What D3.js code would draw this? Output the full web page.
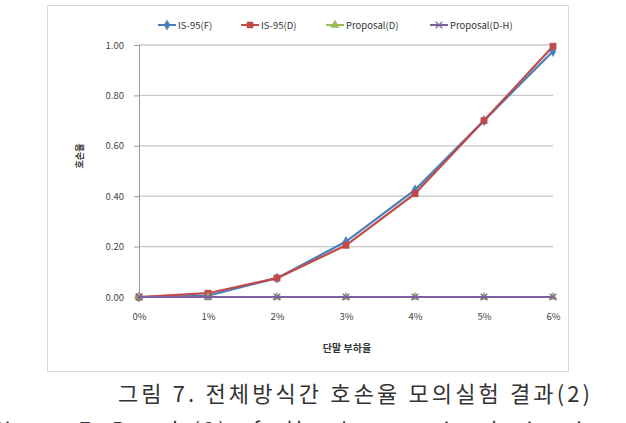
<!DOCTYPE html>
<html><head><meta charset="utf-8">
<script src="https://cdn.jsdelivr.net/npm/d3@7"></script>
<style>body{margin:0;background:#fff;}svg{display:block;}</style>
</head><body>
<svg id="c" width="626" height="423"></svg>
<script>
const categories = ["0%","1%","2%","3%","4%","5%","6%"];
const seriesNames = ["IS-95(F)","IS-95(D)","Proposal(D)","Proposal(D-H)"];
const is95F = [0, 0.005, 0.075, 0.22, 0.425, 0.70, 0.975];
const is95D = [0, 0.015, 0.075, 0.205, 0.41, 0.70, 0.995];
const propD = [0, 0, 0, 0, 0, 0, 0];
const propDH = [0, 0, 0, 0, 0, 0, 0];
const yTicks = [0, 0.2, 0.4, 0.6, 0.8, 1.0];
const xTitle = "단말 부하율";
const yTitle = "호손율";
const caption = "그림 7. 전체방식간 호손율 모의실험 결과(2)";
const caption2 = "Figure 7. Result(2) of all schemes simulation between";

const colors = ["#4a7ebb","#be4b48","#98b954","#7d60a0"];
const symbols = [d3.symbolDiamond, d3.symbolSquare, d3.symbolTriangle, d3.symbolX];
const data = [is95F, is95D, propD, propDH];

const svg = d3.select("#c");
const font = "'Noto Sans CJK KR','Noto Sans',sans-serif";

svg.append("rect").attr("x",47.5).attr("y",5.5).attr("width",521).attr("height",366)
  .attr("fill","#fff").attr("stroke","#d9d9d9");

const x = d3.scalePoint().domain(categories).range([139,553]);
const y = d3.scaleLinear().domain([0,1]).range([297,45]);

// gridlines
svg.append("g").selectAll("line").data(yTicks.filter(d=>d>0)).join("line")
  .attr("x1",139).attr("x2",553).attr("y1",d=>y(d)).attr("y2",d=>y(d))
  .attr("stroke","#c8c8c8").attr("stroke-width",1.3);

// y axis
const ya = svg.append("g").attr("transform","translate(139,0)")
  .call(d3.axisLeft(y).tickValues(yTicks).tickFormat(d3.format(".2f")).tickSize(5).tickPadding(10));
ya.select(".domain").attr("stroke","#9a9a9a");
ya.selectAll(".tick line").attr("stroke","#9a9a9a");
ya.selectAll("text").attr("font-family",font).attr("font-size",9.5).attr("fill","#444");

// x axis
const xa = svg.append("g").attr("transform","translate(0,297)")
  .call(d3.axisBottom(x).tickSize(0).tickPadding(16));
xa.select(".domain").attr("stroke","#9a9a9a");
xa.selectAll("text").attr("font-family",font).attr("font-size",9.5).attr("fill","#444");

// titles
svg.append("text").attr("x",347).attr("y",352).attr("text-anchor","middle")
  .attr("font-family",font).attr("font-size",10).attr("font-weight","bold").attr("fill","#333").text(xTitle);
svg.append("text").attr("transform","translate(83,156) rotate(-90)").attr("text-anchor","middle")
  .attr("font-family",font).attr("font-size",9).attr("font-weight","bold").attr("fill","#333").text(yTitle);

// series
const line = d3.line().x((d,i)=>x(categories[i])).y(d=>y(d));
data.forEach((vals,k)=>{
  svg.append("path").datum(vals).attr("d",line).attr("fill","none")
    .attr("stroke",colors[k]).attr("stroke-width",2.2);
  const sz = k===1 ? 40 : (k===2 ? 28 : 30);
  svg.append("g").selectAll("path").data(vals).join("path")
    .attr("transform",(d,i)=>`translate(${x(categories[i])},${y(d)})`)
    .attr("d",d3.symbol().type(symbols[k]).size(sz))
    .attr("fill",k===3?"none":colors[k]).attr("stroke",colors[k]).attr("stroke-width",k===3?1.2:0.5);
});

// legend
const legX = [158, 241, 326, 430];
seriesNames.forEach((n,k)=>{
  const g = svg.append("g").attr("transform",`translate(${legX[k]},25)`);
  g.append("line").attr("x1",0).attr("x2",18).attr("stroke",colors[k]).attr("stroke-width",2);
  g.append("path").attr("transform","translate(9,0)").attr("d",d3.symbol().type(symbols[k]).size(k===1?36:30))
    .attr("fill",k===3?"none":colors[k]).attr("stroke",colors[k]).attr("stroke-width",k===3?1.2:0.5);
  g.append("text").attr("x",20).attr("y",3.5).attr("font-family",font).attr("font-size",9.5).attr("fill","#333").text(n);
});

// caption
svg.append("text").attr("x",118).attr("y",402)
  .attr("textLength",472).attr("lengthAdjust","spacing")
  .attr("font-family",font).attr("font-size",22).attr("fill","#333").text(caption);
svg.append("text").attr("x",-10).attr("y",437)
  .attr("textLength",690).attr("lengthAdjust","spacing")
  .attr("font-family",font).attr("font-size",20).attr("fill","#333").text(caption2);
</script>
</body></html>
